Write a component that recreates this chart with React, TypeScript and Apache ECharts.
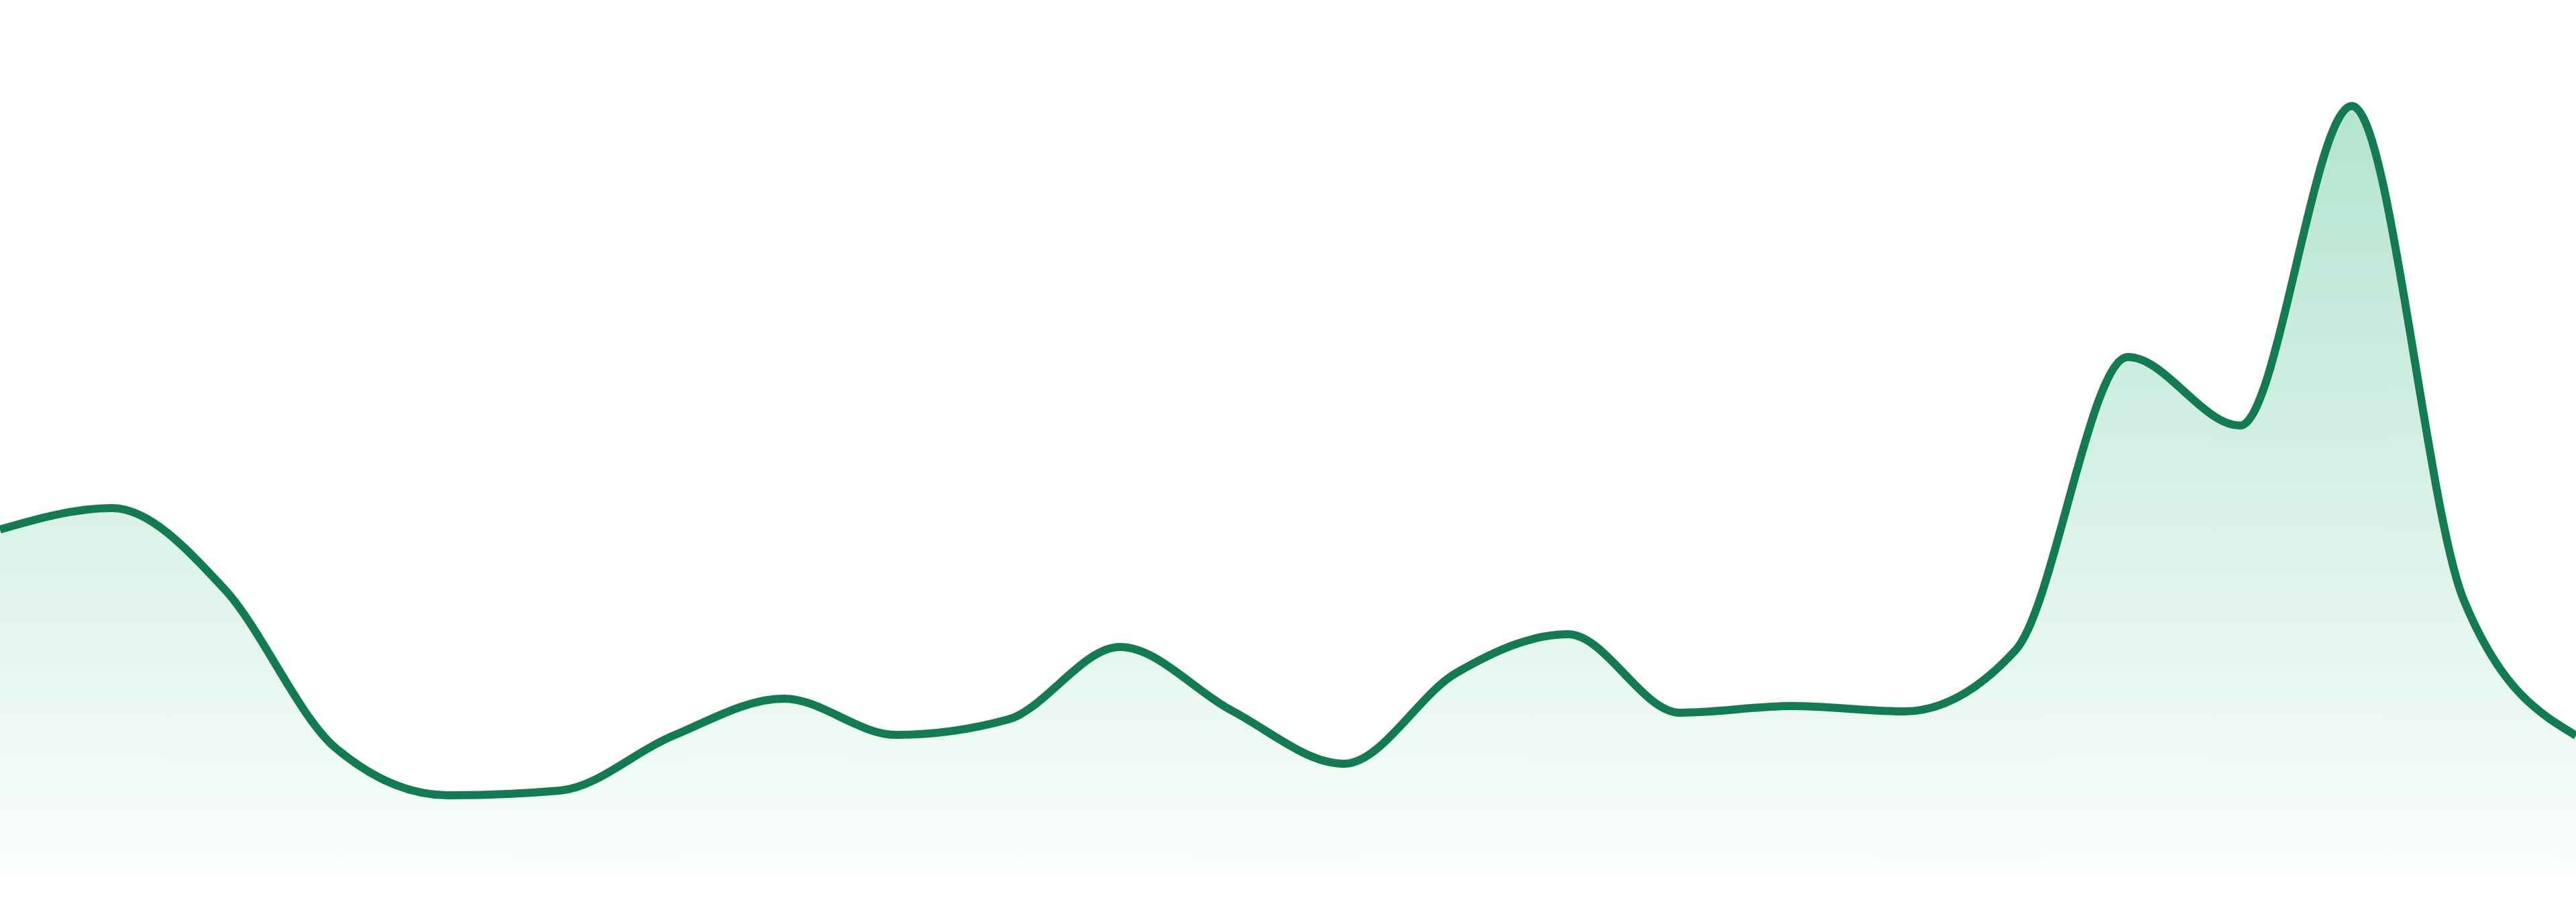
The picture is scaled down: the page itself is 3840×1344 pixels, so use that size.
import { useEffect, useRef } from "react";
import * as echarts from "echarts";

// 24 evenly spaced samples, no labels shown in the picture
const categories = Array.from({ length: 24 }, (_, i) => `P${i + 1}`);

const values = [
  515, 547, 427, 189, 119, 126, 207, 263, 209, 232, 340, 245, 166, 301, 359,
  242, 252, 244, 336, 772, 670, 1146, 409, 208,
];

const yMax = 1304;

const lineColor = "#127b52";

// monotone-x cubic through the points (same curve as d3's curveMonotoneX)
const monotonePath = (pts: number[][]) => {
  const n = pts.length;
  const h: number[] = [];
  const s: number[] = [];
  for (let i = 0; i < n - 1; i++) {
    h.push(pts[i + 1][0] - pts[i][0]);
    s.push((pts[i + 1][1] - pts[i][1]) / h[i]);
  }
  const sign = (x: number) => (x < 0 ? -1 : 1);
  const m: number[] = new Array(n).fill(0);
  for (let i = 1; i < n - 1; i++) {
    const p = (s[i - 1] * h[i] + s[i] * h[i - 1]) / (h[i - 1] + h[i]);
    m[i] =
      (sign(s[i - 1]) + sign(s[i])) *
        Math.min(Math.abs(s[i - 1]), Math.abs(s[i]), 0.5 * Math.abs(p)) || 0;
  }
  m[0] = (3 * s[0] - m[1]) / 2;
  m[n - 1] = (3 * s[n - 2] - m[n - 2]) / 2;

  let d = `M${pts[0][0]},${pts[0][1]}`;
  for (let i = 0; i < n - 1; i++) {
    const dx = h[i] / 3;
    d += `C${pts[i][0] + dx},${pts[i][1] + dx * m[i]},${pts[i + 1][0] - dx},${
      pts[i + 1][1] - dx * m[i + 1]
    },${pts[i + 1][0]},${pts[i + 1][1]}`;
  }
  return d;
};

const App = () => {
  const chartRef = useRef<HTMLDivElement>(null);

  useEffect(() => {
    document.body.style.margin = "0";
    if (!chartRef.current) return;

    const chart = echarts.init(chartRef.current, undefined, { renderer: "svg" });

    const option: echarts.EChartsOption = {
      animation: false,
      grid: { left: 0, right: 0, top: 0, bottom: 40 },
      xAxis: {
        type: "category",
        data: categories,
        boundaryGap: false,
        show: false,
      },
      yAxis: {
        type: "value",
        min: 0,
        max: yMax,
        show: false,
      },
      series: [
        {
          type: "custom",
          clip: false,
          data: values.map((v, i) => [i, v]),
          renderItem: (params: any, api: any) => {
            if (params.dataIndex !== 0) return null;
            const pts = values.map((v, i) => api.coord([i, v]));
            const base = api.coord([0, 0])[1];
            const line = monotonePath(pts);
            const last = pts[pts.length - 1];
            const area = `${line}L${last[0]},${base}L${pts[0][0]},${base}Z`;
            return {
              type: "group",
              children: [
                {
                  type: "path",
                  shape: { pathData: area },
                  style: {
                    fill: new echarts.graphic.LinearGradient(0, 0, 0, 1, [
                      { offset: 0, color: "rgba(20,172,110,0.32)" },
                      { offset: 1, color: "rgba(20,172,110,0.02)" },
                    ]),
                    stroke: "none",
                  },
                },
                {
                  type: "path",
                  shape: { pathData: line },
                  style: {
                    fill: "none",
                    stroke: lineColor,
                    lineWidth: 12,
                  },
                },
              ],
            };
          },
        },
      ],
    };

    chart.setOption(option);

    const handleResize = () => chart.resize();
    window.addEventListener("resize", handleResize);

    return () => {
      window.removeEventListener("resize", handleResize);
      chart.dispose();
    };
  }, []);

  return <div ref={chartRef} style={{ width: "3840px", height: "1344px" }} />;
};

export default App;
